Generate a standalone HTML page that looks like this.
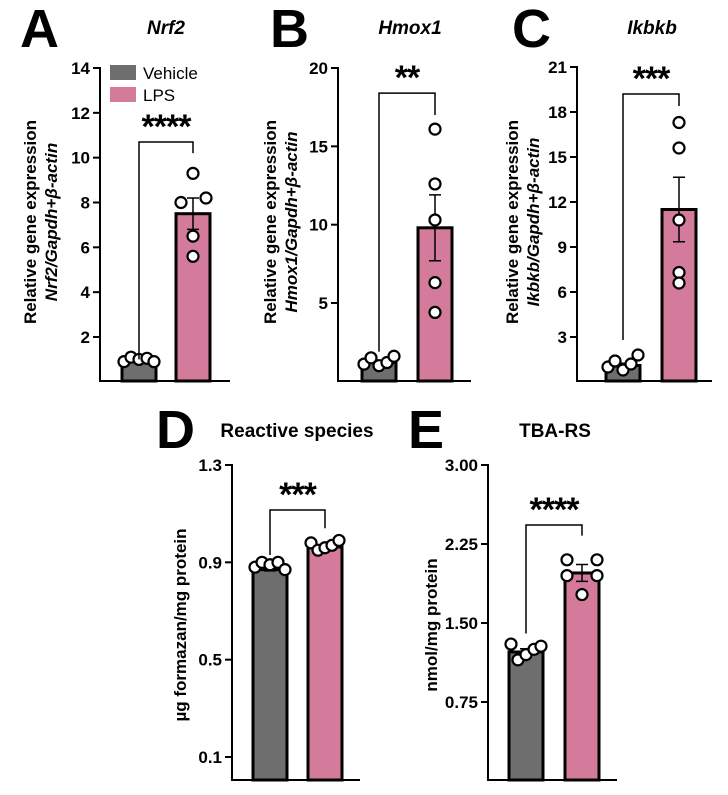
<!DOCTYPE html>
<html><head><meta charset="utf-8">
<style>
html,body{margin:0;padding:0;background:#fff;}
svg{display:block;font-family:"Liberation Sans",Arial,sans-serif;}
</style></head>
<body>
<svg id="fig" width="728" height="795" viewBox="0 0 728 795" xmlns="http://www.w3.org/2000/svg"></svg>
<script>
// ---- Data ----
const groups = ["Vehicle", "LPS"];
const nrf2Means = [1.0, 7.5];
const nrf2Sem = [0.05, 0.7];
const nrf2Veh = [0.9, 1.1, 1.0, 1.05, 0.9];
const nrf2Lps = [8.0, 6.5, 5.6, 8.2, 9.3];
const nrf2Ticks = [2, 4, 6, 8, 10, 12, 14];

const hmoxMeans = [1.2, 9.8];
const hmoxSem = [0.1, 2.1];
const hmoxVeh = [1.1, 1.5, 1.0, 1.2, 1.6];
const hmoxLps = [16.1, 12.6, 10.3, 6.3, 4.4];
const hmoxTicks = [5, 10, 15, 20];

const ikbkbMeans = [1.1, 11.5];
const ikbkbSem = [0.15, 2.15];
const ikbkbVeh = [1.0, 1.4, 0.8, 1.2, 1.8];
const ikbkbLps = [17.3, 15.6, 10.8, 7.3, 6.6];
const ikbkbTicks = [3, 6, 9, 12, 15, 18, 21];

const rsMeans = [0.87, 0.963];
const rsSem = [0.005, 0.007];
const rsVeh = [0.88, 0.9, 0.89, 0.9, 0.87];
const rsLps = [0.98, 0.95, 0.96, 0.97, 0.99];
const rsTicks = [0.1, 0.5, 0.9, 1.3];
const rsTickLabels = ["0.1", "0.5", "0.9", "1.3"];

const tbaMeans = [1.225, 1.975];
const tbaSem = [0.03, 0.08];
const tbaVeh = [1.3, 1.15, 1.2, 1.25, 1.28];
const tbaLps = [2.1, 1.95, 1.77, 1.95, 2.1];
const tbaTicks = [0.75, 1.5, 2.25, 3.0];
const tbaTickLabels = ["0.75", "1.50", "2.25", "3.00"];

const colors = ["#6e6e6e", "#d47a9a"];
const NS = "http://www.w3.org/2000/svg";
const svg = document.getElementById("fig");

function mk(tag, attrs, parent, text) {
  const e = document.createElementNS(NS, tag);
  for (const k in attrs) e.setAttribute(k, attrs[k]);
  if (text !== undefined) e.textContent = text;
  (parent || svg).appendChild(e);
  return e;
}

function panel(cfg) {
  const g = mk("g", {});
  
  
  const y = v => cfg.y0 - (v - cfg.dmin) / (cfg.dmax - cfg.dmin) * (cfg.y0 - cfg.y1);
  const ax = mk("path", {d: `M${cfg.ax} ${cfg.yTop} V${cfg.yBase} H${cfg.axEnd}`, stroke: "#000", "stroke-width": 2, fill: "none"}, g);
  
  
  cfg.ticks.forEach((t, i) => {
    const ty = y(t);
    const tk = mk("line", {x1: cfg.ax - 7, x2: cfg.ax, y1: ty, y2: ty, stroke: "#000", "stroke-width": 2}, g);
    
    
    const tl = mk("text", {x: cfg.ax - 10, y: ty + 6, "text-anchor": "end", "font-size": 17, "font-weight": "bold"}, g, cfg.tickLabels ? cfg.tickLabels[i] : String(t));
    
    
  });
  const bw = 34;
  cfg.means.forEach((m, i) => {
    const bx = cfg.barX[i];
    const top = y(m);
    const r = mk("rect", {x: bx, y: top, width: bw, height: cfg.yBase - top, fill: colors[i], stroke: "#000", "stroke-width": 3}, g);
    
    
    const cx = bx + bw / 2;
    const e1 = y(m + cfg.sem[i]), e2 = y(m - cfg.sem[i]);
    const eb = mk("path", {d: `M${cx} ${e1} V${e2} M${cx - 6} ${e1} H${cx + 6} M${cx - 6} ${e2} H${cx + 6}`, stroke: "#000", "stroke-width": 1.5, fill: "none"}, g);
    
    
    const pts = i === 0 ? cfg.veh : cfg.lps;
    const offs = i === 0 ? [-15, -8, 0, 8, 15] : cfg.lpsOffs;
    pts.forEach((p, j) => {
      const c = mk("circle", {cx: cx + offs[j], cy: y(p), r: 5.5, fill: "#fff", stroke: "#000", "stroke-width": 2.2}, g);
      
      
    });
  });
  const lx = cfg.barX[0] + bw / 2, rx = cfg.barX[1] + bw / 2;
  const by = y(cfg.brTop);
  const br = mk("path", {d: `M${lx} ${y(cfg.brL)} V${by} H${rx} V${y(cfg.brR)}`, stroke: "#000", "stroke-width": 1.5, fill: "none"}, g);
  
  
  const st = mk("text", {x: (lx + rx) / 2, y: by - 4, "text-anchor": "middle", "font-size": 34, "font-weight": "bold", "letter-spacing": "-1"}, g, cfg.stars);
  
  
  const lt = mk("text", {x: cfg.letter[1], y: cfg.letter[2], "font-size": 54, "font-weight": "bold"}, g, cfg.letter[0]);
  
  
  const tt = mk("text", {x: cfg.title[1], y: cfg.title[2], "text-anchor": "middle", "font-size": 19, "font-weight": "bold", "font-style": cfg.title[3] ? "italic" : "normal"}, g, cfg.title[0]);
  
  
  const yl = mk("text", {transform: `translate(${cfg.ylab.x},${cfg.ylab.y}) rotate(-90)`, "text-anchor": "middle", "font-size": 17, "font-weight": "bold"}, g);
  
  
  cfg.ylab.lines.forEach((ln, k) => {
    const ts = mk("tspan", {x: 0, dy: k === 0 ? 0 : 21}, yl);
    ln.forEach(seg => mk("tspan", seg[1] ? {"font-style": "italic"} : {}, ts, seg[0]));
  });
}

const geneLab = gene => [[["Relative gene expression", false]], [[gene, true], ["/Gapdh+β-actin", true]]];

panel({name: "panel-a-nrf2", ax: 100, axEnd: 230, yTop: 67, yBase: 381, y0: 337, y1: 68, dmin: 2, dmax: 14,
  ticks: nrf2Ticks, means: nrf2Means, sem: nrf2Sem, veh: nrf2Veh, lps: nrf2Lps, barX: [122, 176],
  lpsOffs: [-12, 0, 0, 13, 0], brTop: 10.7, brL: 1.0, brR: 10.2, stars: "****",
  letter: ["A", 20, 47], title: ["Nrf2", 166, 34, true],
  ylab: {x: 36, y: 222, lines: geneLab("Nrf2")}});

panel({name: "panel-b-hmox1", ax: 338, axEnd: 471, yTop: 67, yBase: 381, y0: 303, y1: 68, dmin: 5, dmax: 20,
  ticks: hmoxTicks, means: hmoxMeans, sem: hmoxSem, veh: hmoxVeh, lps: hmoxLps, barX: [362, 418],
  lpsOffs: [0, 0, 0, 0, 0], brTop: 18.4, brL: 1.9, brR: 17.0, stars: "**",
  letter: ["B", 270, 47], title: ["Hmox1", 410, 34, true],
  ylab: {x: 276, y: 222, lines: geneLab("Hmox1")}});

panel({name: "panel-c-ikbkb", ax: 577, axEnd: 712, yTop: 66, yBase: 381, y0: 337, y1: 67, dmin: 3, dmax: 21,
  ticks: ikbkbTicks, means: ikbkbMeans, sem: ikbkbSem, veh: ikbkbVeh, lps: ikbkbLps, barX: [606, 662],
  lpsOffs: [0, 0, 0, 0, 0], brTop: 19.2, brL: 2.8, brR: 18.4, stars: "***",
  letter: ["C", 512, 47], title: ["Ikbkb", 652, 34, true],
  ylab: {x: 518, y: 222, lines: geneLab("Ikbkb")}});

panel({name: "panel-d-reactive-species", ax: 232, axEnd: 360, yTop: 464, yBase: 780, y0: 757, y1: 465, dmin: 0.1, dmax: 1.3,
  ticks: rsTicks, tickLabels: rsTickLabels, means: rsMeans, sem: rsSem, veh: rsVeh, lps: rsLps, barX: [253, 308],
  lpsOffs: [-14, -7, 0, 7, 14], brTop: 1.115, brL: 0.93, brR: 1.04, stars: "***",
  letter: ["D", 156, 448], title: ["Reactive species", 297, 437, false],
  ylab: {x: 186, y: 625, lines: [[["µg formazan/mg protein", false]]]}});

panel({name: "panel-e-tba-rs", ax: 488, axEnd: 617, yTop: 464, yBase: 780, y0: 702, y1: 465, dmin: 0.75, dmax: 3.0,
  ticks: tbaTicks, tickLabels: tbaTickLabels, means: tbaMeans, sem: tbaSem, veh: tbaVeh, lps: tbaLps, barX: [509, 565],
  lpsOffs: [-15, -15, 0, 15, 15], brTop: 2.43, brL: 1.4, brR: 2.33, stars: "****",
  letter: ["E", 408, 448], title: ["TBA-RS", 555, 437, false],
  ylab: {x: 437, y: 625, lines: [[["nmol/mg protein", false]]]}});

const lg = mk("g", {});


groups.forEach((gname, i) => {
  const sw = mk("rect", {x: 110, y: 65 + i * 22, width: 26, height: 15, fill: colors[i]}, lg);
  
  
  const tx = mk("text", {x: 143, y: 79 + i * 22, "font-size": 17}, lg, gname);
  
  
});
</script>
</body></html>
